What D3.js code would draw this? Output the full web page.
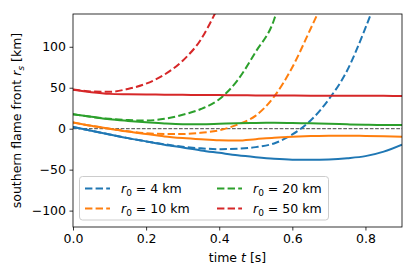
<!DOCTYPE html>
<html>
<head>
<meta charset="utf-8">
<script src="https://cdn.jsdelivr.net/npm/d3@7"></script>
<style>
    body { margin: 0; background: #fff; }
    text { font-family: "DejaVu Sans", sans-serif; fill: #000; }
</style>
</head>
<body>
<script>
// flame front positions, one pair of arrays per run
let labels = ["4", "10", "20", "50"];
let colors = ["#1f77b4", "#ff7f0e", "#2ca02c", "#d62728"];

let tSolid = [0, 0.05, 0.1, 0.15, 0.2, 0.25, 0.3, 0.35, 0.4, 0.45, 0.5, 0.55, 0.6, 0.65, 0.7, 0.75, 0.8, 0.85, 0.9];
let solid4 = [2, -2.5, -7, -11.5, -15.5, -19.5, -23, -26.5, -29.5, -32.5, -34.8, -36.7, -37.8, -38, -37.5, -36, -33.5, -28, -19.5];
let solid10 = [7.5, 3.5, 0, -3.5, -6.5, -9.5, -11.5, -13, -14.2, -14.5, -12.8, -11, -9.8, -9, -8.5, -8.5, -8.9, -9.3, -9.7];
let solid20 = [17.5, 14.5, 11.5, 9.5, 7.8, 6.3, 5.5, 5.5, 6, 6.6, 7, 7.2, 7, 6.5, 6, 5.3, 4.8, 4.5, 4.5];
let solid50 = [47.5, 44.5, 42.5, 42, 41.7, 41.5, 41.3, 41.1, 41, 40.8, 40.6, 40.5, 40.4, 40.3, 40.3, 40.2, 40.2, 40.1, 40];

let tDash4 = [0, 0.05, 0.1, 0.15, 0.2, 0.25, 0.3, 0.35, 0.4, 0.45, 0.5, 0.55, 0.6, 0.65, 0.7, 0.75, 0.8, 0.82];
let dash4 = [2, -2.5, -7, -11.5, -15.5, -19, -22, -24, -25, -24.5, -22.5, -18, -7, 10, 36, 71, 123, 146];
let tDash10 = [0, 0.05, 0.1, 0.15, 0.2, 0.25, 0.3, 0.35, 0.4, 0.45, 0.5, 0.55, 0.6, 0.65, 0.675];
let dash10 = [7.5, 3.5, 0, -3.2, -5.5, -6.5, -6.5, -5, -2, 5, 16, 39, 75, 122, 146];
let tDash20 = [0, 0.05, 0.1, 0.15, 0.2, 0.25, 0.3, 0.35, 0.4, 0.45, 0.5, 0.55, 0.56];
let dash20 = [17.5, 14.5, 12, 10.5, 10, 12, 17, 24, 36, 59, 94, 133, 147];
let tDash50 = [0, 0.05, 0.1, 0.15, 0.2, 0.25, 0.3, 0.35, 0.39];
let dash50 = [48, 45.5, 45, 48.5, 55, 66, 83, 109, 142];

let xTicks = [0.0, 0.2, 0.4, 0.6, 0.8];
let yTicks = [-100, -50, 0, 50, 100];

let solids = [solid4, solid10, solid20, solid50];
let dashT = [tDash4, tDash10, tDash20, tDash50];
let dashes = [dash4, dash10, dash20, dash50];

let W = 416, H = 277;
let margin = {left: 73, right: 14, top: 14, bottom: 50};

let svg = d3.select("body").append("svg")
    .attr("width", W)
    .attr("height", H);

let x = d3.scaleLinear().domain([0, 0.9]).range([margin.left, W - margin.right]);
let y = d3.scaleLinear().domain([-120, 140]).range([H - margin.bottom, margin.top]);

svg.append("clipPath").attr("id", "plotclip")
    .append("rect")
    .attr("x", margin.left).attr("y", margin.top)
    .attr("width", W - margin.left - margin.right)
    .attr("height", H - margin.top - margin.bottom);

let plot = svg.append("g").attr("clip-path", "url(#plotclip)");

// zero reference line
plot.append("line")
    .attr("x1", x(0)).attr("x2", x(0.9))
    .attr("y1", y(0)).attr("y2", y(0))
    .attr("stroke", "#444")
    .attr("stroke-width", 1)
    .attr("stroke-dasharray", "3.7,1.6");

let line = d3.line()
    .x((d) => x(d[0]))
    .y((d) => y(d[1]))
    .curve(d3.curveMonotoneX);

for (let i = 0; i < labels.length; i++) {
    let sPts = tSolid.map((t, j) => [t, solids[i][j]]);
    let dPts = dashT[i].map((t, j) => [t, dashes[i][j]]);
    plot.append("path")
        .attr("d", line(sPts))
        .attr("fill", "none")
        .attr("stroke", colors[i])
        .attr("stroke-width", 2);
    plot.append("path")
        .attr("d", line(dPts))
        .attr("fill", "none")
        .attr("stroke", colors[i])
        .attr("stroke-width", 2)
        .attr("stroke-dasharray", "7.4,3.2");
}

// axes
let xAxis = d3.axisBottom(x).tickValues(xTicks).tickSize(3.5).tickPadding(3.5)
    .tickFormat(d3.format(".1f"));
let yAxis = d3.axisLeft(y).tickValues(yTicks).tickSize(3.5).tickPadding(3.5)
    .tickFormat((d) => d < 0 ? "\u2212" + Math.abs(d) : d);

let gx = svg.append("g")
    .attr("transform", "translate(0," + (H - margin.bottom) + ")")
    .call(xAxis);
let gy = svg.append("g")
    .attr("transform", "translate(" + margin.left + ",0)")
    .call(yAxis);

for (let g of [gx, gy]) {
    g.select(".domain").remove();
    g.selectAll("line").attr("stroke", "#000").attr("stroke-width", 0.8);
    g.selectAll("text").attr("font-size", 12.5).attr("font-family", "DejaVu Sans").attr("fill", "#000");
}

svg.append("rect")
    .attr("x", margin.left).attr("y", margin.top)
    .attr("width", W - margin.left - margin.right)
    .attr("height", H - margin.top - margin.bottom)
    .attr("fill", "none")
    .attr("stroke", "#000")
    .attr("stroke-width", 0.8);

// axis labels
let xl = svg.append("text")
    .attr("x", (margin.left + W - margin.right) / 2)
    .attr("y", 262)
    .attr("text-anchor", "middle")
    .attr("font-size", 12.5);
xl.append("tspan").text("time ");
xl.append("tspan").attr("font-style", "italic").text("t");
xl.append("tspan").text(" [s]");

let yl = svg.append("text")
    .attr("transform", "translate(21," + ((margin.top + H - margin.bottom) / 2) + ") rotate(-90)")
    .attr("text-anchor", "middle")
    .attr("font-size", 12.5);
yl.append("tspan").text("southern flame front ");
yl.append("tspan").attr("font-style", "italic").text("r");
yl.append("tspan").attr("font-style", "italic").attr("font-size", 9).attr("dy", 3).text("s");
yl.append("tspan").attr("dy", -3).text(" [km]");

// legend
let leg = svg.append("g");
leg.append("rect")
    .attr("x", 79.5).attr("y", 176.5)
    .attr("width", 249).attr("height", 43.5)
    .attr("rx", 3)
    .attr("fill", "#fff").attr("fill-opacity", 0.8)
    .attr("stroke", "#ccc").attr("stroke-width", 1);

for (let i = 0; i < labels.length; i++) {
    let col = Math.floor(i / 2), row = i % 2;
    let lx = 85 + col * 132, ly = 188.5 + row * 20;
    leg.append("line")
        .attr("x1", lx).attr("x2", lx + 25)
        .attr("y1", ly).attr("y2", ly)
        .attr("stroke", colors[i])
        .attr("stroke-width", 2)
        .attr("stroke-dasharray", "7.4,3.2");
    let t = leg.append("text")
        .attr("x", lx + 36).attr("y", ly + 4.5)
        .attr("font-size", 12.5);
    t.append("tspan").attr("font-style", "italic").text("r");
    t.append("tspan").attr("font-size", 9).attr("dy", 3).text("0");
    t.append("tspan").attr("dy", -3).text(" = " + labels[i] + " km");
}
</script>
</body>
</html>
